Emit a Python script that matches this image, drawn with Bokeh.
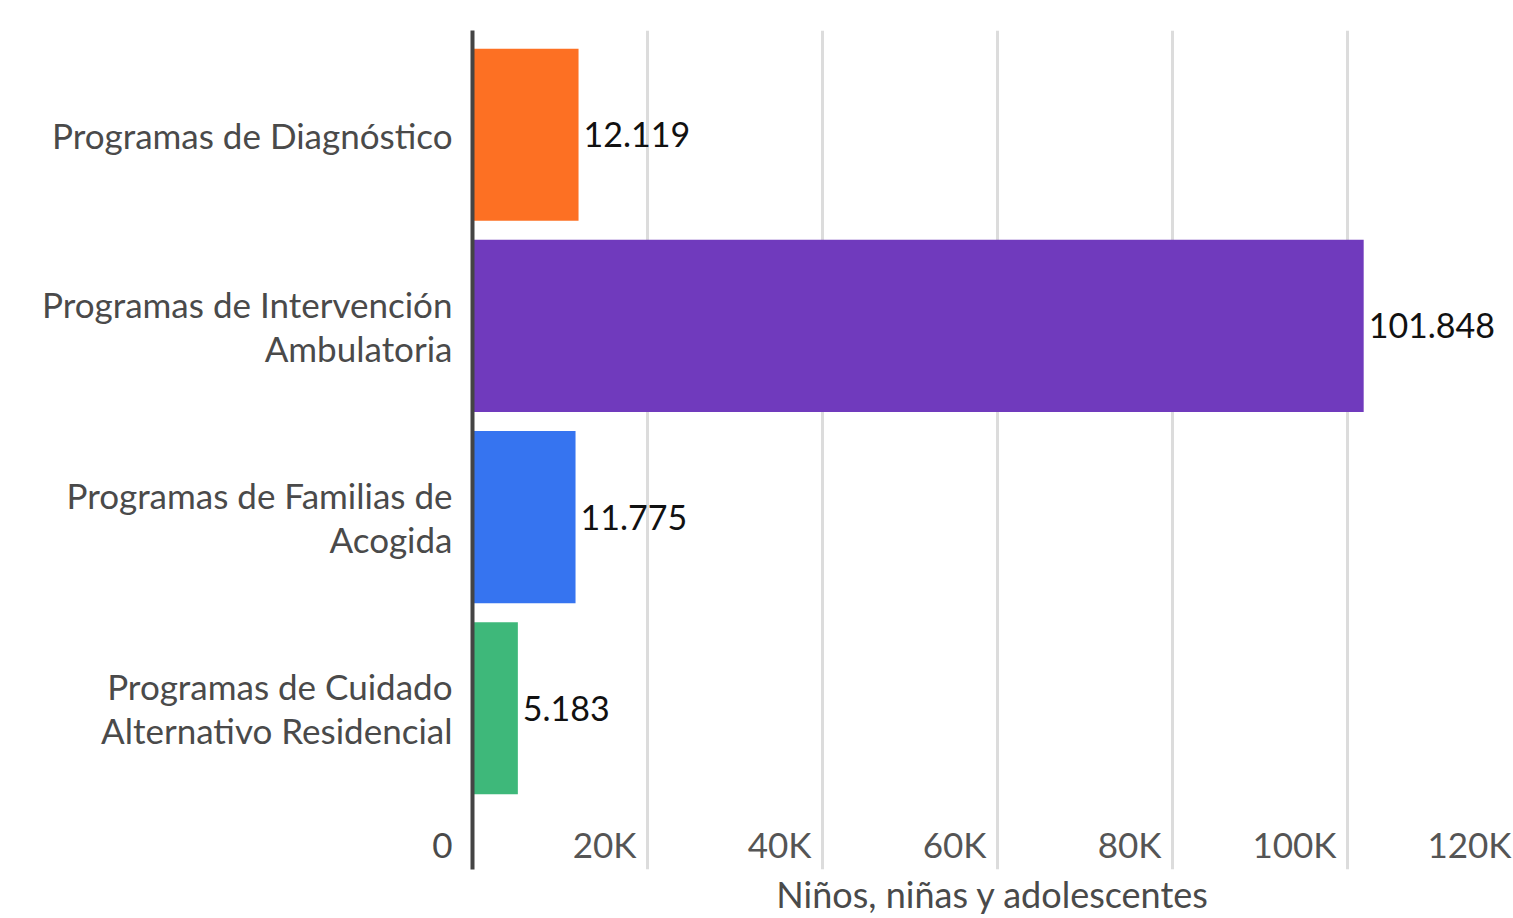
from bokeh.plotting import figure
from bokeh.models import Range1d, FixedTicker, ColumnDataSource, LabelSet, Label
from bokeh.core.properties import value
from bokeh.embed import file_html
from bokeh.resources import INLINE

categories = [
    "Programas de Diagnóstico",
    "Programas de Intervención\nAmbulatoria",
    "Programas de Familias de\nAcogida",
    "Programas de Cuidado\nAlternativo Residencial",
]
values = [12119, 101848, 11775, 5183]
colors = ["#FD7023", "#703ABD", "#3674F0", "#3EB87A"]
tick_values = [0, 20000, 40000, 60000, 80000, 100000, 120000]
tick_labels = ["0", "20K", "40K", "60K", "80K", "100K", "120K"]
axis_title = "Niños, niñas y adolescentes"

n = len(categories)
ypos = [n - 1 - i for i in range(n)]
value_text = [f"{v:,}".replace(",", ".") for v in values]

FONT = "Lato"
Y0 = -0.843          # bottom of the plot frame (layout)
Y_TICKROW = -0.712   # vertical position of the x tick-label row (layout)

p = figure(width=1513, height=918, output_backend="svg", toolbar_location=None,
           x_range=Range1d(0, 118970), y_range=Range1d(Y0, 3.545))
p.min_border_left = 472
p.min_border_right = 0
p.min_border_top = 30
p.min_border_bottom = 40
p.outline_line_color = None

src = ColumnDataSource(dict(y=ypos, v=values, c=colors, t=value_text))
p.hbar(y="y", right="v", left=0, height=0.9, fill_color="c", line_color=None, source=src)

lbl = LabelSet(x="v", y="y", text="t", source=src, x_offset=5, text_baseline="middle",
               text_align="left", text_font=value(FONT), text_font_size=value("34px"),
               text_color="#111111")
p.add_layout(lbl)

# x tick labels (right-aligned just left of each gridline); the first one ("0")
# lies left of the frame, so it is carried by the y axis below
for tv, tt in zip(tick_values[1:], tick_labels[1:]):
    p.add_layout(Label(x=tv, y=Y_TICKROW, text=tt, x_offset=-11, y_offset=0,
                       text_align="right", text_baseline="middle", text_font=FONT,
                       text_font_size="35px", text_color="#555555"))

# grid
p.xgrid.ticker = FixedTicker(ticks=tick_values)
p.xgrid.grid_line_color = "#DCDCDC"
p.xgrid.grid_line_width = 3
p.ygrid.grid_line_color = None

# y axis
p.yaxis.ticker = FixedTicker(ticks=ypos + [Y_TICKROW])
overrides = {y: c for y, c in zip(ypos, categories)}
overrides[Y_TICKROW] = tick_labels[0]
p.yaxis.major_label_overrides = overrides
p.yaxis.axis_line_color = "#444444"
p.yaxis.axis_line_width = 4
p.yaxis.major_tick_line_color = None
p.yaxis.minor_tick_line_color = None
p.yaxis.major_tick_out = 0
p.yaxis.major_label_standoff = 20
p.yaxis.major_label_text_font = FONT
p.yaxis.major_label_text_font_size = "35px"
p.yaxis.major_label_text_line_height = 1.05
p.yaxis.major_label_text_color = "#4A4A4A"

# x axis (title only)
p.xaxis.ticker = FixedTicker(ticks=[])
p.xaxis.axis_line_color = None
p.xaxis.major_tick_line_color = None
p.xaxis.minor_tick_line_color = None
p.xaxis.major_tick_out = 0
p.xaxis.major_label_standoff = 0
p.xaxis.axis_label = axis_title
p.xaxis.axis_label_standoff = 2
p.xaxis.axis_label_text_font = FONT
p.xaxis.axis_label_text_font_size = "36px"
p.xaxis.axis_label_text_font_style = "normal"
p.xaxis.axis_label_text_color = "#4A4A4A"

open("out.html", "w").write(file_html(p, INLINE))
